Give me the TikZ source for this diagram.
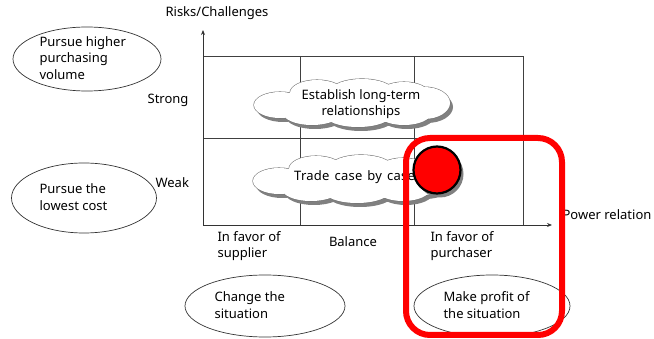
\documentclass[tikz,border=0pt]{standalone}
\usepackage{fontspec}
\setmainfont{Noto Sans}
\usetikzlibrary{shapes.geometric,shadows,arrows.meta}
\begin{document}
\begin{tikzpicture}[x=1pt,y=-1pt,
  every node/.style={font=\fontsize{13}{16.5}\selectfont},
  grid/.style={draw=black!75, line width=0.9pt},
  axis/.style={draw=black!80, line width=0.9pt, -{Stealth[length=5pt,width=4pt]}},
  oval/.style={draw=black!80, ellipse, line width=0.7pt, inner sep=0pt},
  ovaltext/.style={align=left, anchor=west},
  cloudtext/.style={align=center, inner sep=0pt},
  lbl/.style={align=left, anchor=north west},
  cloudpic/.pic={
    \fill[black!50, shift={(3,4)}] \foreach \a/\b/\c/\d in {0/0/76/18, -72/2/26/13, 72/0/26/16, -35/-10/27/13, 10/-12/31/12, 52/-9/25/12, -40/10/29/12, 6/12/33/12, 52/10/27/12} {(\a,\b) ellipse [x radius=\c, y radius=\d]};
    \draw[black!55, line width=1.1pt] \foreach \a/\b/\c/\d in {0/0/76/18, -72/2/26/13, 72/0/26/16, -35/-10/27/13, 10/-12/31/12, 52/-9/25/12, -40/10/29/12, 6/12/33/12, 52/10/27/12} {(\a,\b) ellipse [x radius=\c, y radius=\d]};
    \fill[white] \foreach \a/\b/\c/\d in {0/0/76/18, -72/2/26/13, 72/0/26/16, -35/-10/27/13, 10/-12/31/12, 52/-9/25/12, -40/10/29/12, 6/12/33/12, 52/10/27/12} {(\a,\b) ellipse [x radius=\c, y radius=\d]};
  },
]
\useasboundingbox (0,0) rectangle (654,339);
% grid
\coordinate (o) at (203,225);
\coordinate (ytip) at (203,30);
\coordinate (xtip) at (552,225);
\coordinate (tl) at (203,56);
\coordinate (tr) at (523,56);
\coordinate (ml) at (203,138);
\coordinate (mr) at (523,138);
\coordinate (v1t) at (300,56);
\coordinate (v1b) at (300,225);
\coordinate (v2t) at (414,56);
\coordinate (v2b) at (414,225);
\coordinate (v3b) at (523,225);
\draw[grid] (tl) -- (tr) -- (v3b);
\draw[grid] (ml) -- (mr);
\draw[grid] (v1t) -- (v1b);
\draw[grid] (v2t) -- (v2b);
\draw[axis] (o) -- (ytip);
\draw[axis] (o) -- (xtip);
% axis labels
\node (rc) at (217,13) {Risks/Challenges};
\node (pr) at (607,215) {Power relation};
\node[anchor=east] (strong) at (192,100) {Strong};
\node[anchor=west] (weak) at (152,183) {Weak};
\node[lbl] (fs) at (214,228) {In favor of\\supplier};
\node (bal) at (353,242) {Balance};
\node[lbl] (fp) at (427,228) {In favor of\\purchaser};
% clouds
\pic at (352,103) {cloudpic};
\node[cloudtext] (c1t) at (361,104) {Establish long-term\\relationships};
\pic at (351,179) {cloudpic};
\node[cloudtext, anchor=west] (c2t) at (294,177) {\addfontfeature{LetterSpace=2}\spaceskip=5pt Trade case by case};
% ellipses
\node[oval, minimum width=148pt, minimum height=64pt] (e1) at (87,59) {};
\node[ovaltext] (t1) at (36,58) {Pursue higher\\purchasing\\volume};
\node[oval, minimum width=145pt, minimum height=70pt] (e2) at (84,198) {};
\node[ovaltext] (t2) at (36,197) {Pursue the\\lowest cost};
\node[oval, minimum width=160pt, minimum height=62pt] (e3) at (265,306) {};
\node[ovaltext] (t3) at (211,305) {Change the\\situation};
\node[oval, minimum width=156pt, minimum height=62pt] (e4) at (492,306) {};
\node[ovaltext] (t4) at (440,305) {Make profit of\\the situation};
% red circle
\node[circle, draw=black, line width=2.2pt, fill=red, minimum size=47pt,
  drop shadow={shadow xshift=3pt, shadow yshift=-4pt, fill=black!50, opacity=1}] (dot) at (437,170) {};
% red rounded rectangle
\coordinate (ra) at (406,138);
\coordinate (rb) at (562,335);
\draw[red, line width=6pt, rounded corners=24pt] (ra) rectangle (rb);
\end{tikzpicture}
\end{document}
